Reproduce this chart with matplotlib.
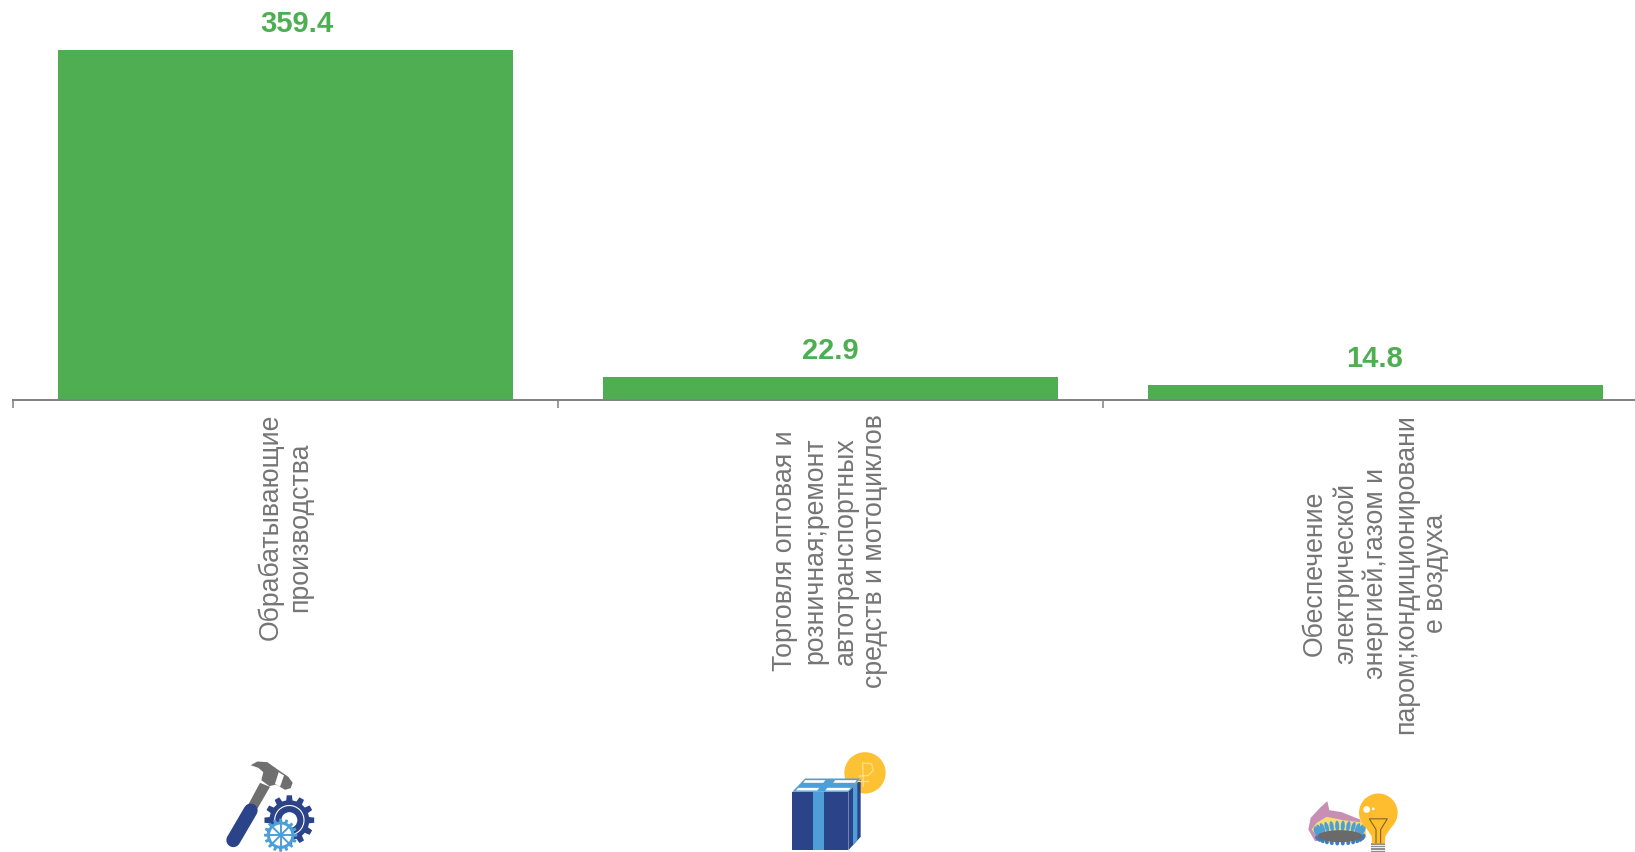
# Bar chart with rotated category labels and a small drawn icon under each bar
import numpy as np
import matplotlib
matplotlib.use('Agg')
import matplotlib.pyplot as plt
from matplotlib.patches import Circle, Ellipse, Polygon, Rectangle

plt.rcParams['font.family'] = ['Liberation Sans', 'DejaVu Sans']

categories = [
    'Обрабатывающие\nпроизводства',
    'Торговля оптовая и\nрозничная;ремонт\nавтотранспортных\nсредств и мотоциклов',
    'Обеспечение\nэлектрической\nэнергией,газом и\nпаром;кондиционировани\nе воздуха',
]
values = [359.4, 22.9, 14.8]

BAR_GREEN = '#4fae52'
LABEL_GREEN = '#4caf50'
AXIS_GREY = '#808080'
TEXT_GREY = '#757575'
DARK_BLUE = '#2b4389'
LIGHT_BLUE = '#4e9fd8'
HAMMER_GREY = '#6f6f6f'
YELLOW = '#fdbd2d'

W, H = 1635, 853
fig = plt.figure(figsize=(W / 100, H / 100), dpi=100)

# chart axes, runs off the right edge of the figure like the original
axis_y = 400.5
ax = fig.add_axes([12.5 / W, 1 - axis_y / H, 1636 / W, axis_y / H])
x = np.arange(len(values)) + 0.5
ax.bar(x, values, width=0.834, color=BAR_GREEN)
ax.set_xlim(0, 3)
ax.set_ylim(0, 359.4 * axis_y / 349.5)
for name in ['top', 'left', 'right']:
    ax.spines[name].set_visible(False)
ax.spines['bottom'].set_color(AXIS_GREY)
ax.spines['bottom'].set_linewidth(1.4)
ax.set_yticks([])

# band edges get the tick marks, band centres get the labels
ax.set_xticks([0, 1, 2, 3])
ax.set_xticklabels([])
ax.tick_params(axis='x', which='major', length=6, width=1.1, color=AXIS_GREY)
ax.set_xticks(x, minor=True)
ax.set_xticklabels(categories, minor=True, rotation=90, ha='center', va='top',
                   multialignment='center', fontsize=19.2, color=TEXT_GREY, linespacing=1.2)
ax.tick_params(axis='x', which='minor', length=0, pad=9.5)

# first label sits right of its bar centre in the original
label_shift = [12, 0, -1]
for xi, v, dx in zip(x, values, label_shift):
    ax.annotate(f'{v:.1f}', xy=(xi, v), xytext=(dx * 0.72, 27 * 0.72), textcoords='offset points',
                ha='center', va='center', fontsize=21, fontweight='bold', color=LABEL_GREEN,
                annotation_clip=False)

# overlay in pixel coordinates for the icons
icons = fig.add_axes([0, 0, 1, 1], zorder=5)
icons.set_xlim(0, W)
icons.set_ylim(H, 0)
icons.axis('off')
icons.patch.set_alpha(0)


def gear(cx, cy, r_out, r_in, teeth):
    # outline of a toothed wheel
    pts = []
    step = 2 * np.pi / teeth
    for k in range(teeth):
        a = k * step
        for da, r in [(-0.30, r_in), (-0.20, r_out), (0.20, r_out), (0.30, r_in)]:
            ang = a + da * step
            pts.append((cx + r * np.cos(ang), cy + r * np.sin(ang)))
    return pts


def hammer_icon(ox, oy, s=1 / 3):
    p = lambda pts: [(ox + a * s, oy + b * s) for a, b in pts]
    icons.add_patch(Polygon(p([(240, 160), (270, 172), (232, 238), (205, 225)]), color=HAMMER_GREY, lw=0))
    icons.plot(*zip(*p([(212, 243), (160, 332)])), color=DARK_BLUE, lw=14 * 0.72, solid_capstyle='round')
    icons.add_patch(Polygon(p([(212, 107), (232, 96), (262, 98), (290, 118), (325, 142), (338, 160),
                               (332, 176), (315, 181), (288, 165), (268, 170), (244, 152), (250, 128),
                               (235, 115)]), color=HAMMER_GREY, lw=0))
    icons.add_patch(Polygon(p([(296, 128), (312, 138), (300, 172), (285, 163)]), color='white', lw=0))
    cx, cy = ox + 328 * s, oy + 272 * s
    icons.add_patch(Polygon(gear(cx, cy, 75 * s, 60 * s, 12), color=DARK_BLUE, lw=0))
    icons.add_patch(Circle((cx, cy), 44 * s, fill=False, ec='white', lw=0.8))
    icons.add_patch(Circle((cx, cy), 24 * s, color='white', lw=0))
    cx2, cy2 = ox + 302 * s, oy + 317 * s
    icons.add_patch(Polygon(gear(cx2, cy2, 50 * s, 41 * s, 16), color=LIGHT_BLUE, lw=0))
    icons.add_patch(Circle((cx2, cy2), 32 * s, color='white', lw=0))
    for k in range(8):
        a = k * np.pi / 4
        icons.plot([cx2, cx2 + 36 * s * np.cos(a)], [cy2, cy2 + 36 * s * np.sin(a)], color=LIGHT_BLUE, lw=1.4)
    icons.add_patch(Circle((cx2, cy2), 6 * s, color=DARK_BLUE, lw=0))


def box_icon(ox, oy, s=1 / 3):
    p = lambda pts: [(ox + a * s, oy + b * s) for a, b in pts]
    icons.add_patch(Circle((ox + 375 * s, oy + 130 * s), 62 * s, color='#fcc233', lw=0))
    coin = '#fde08a'
    icons.plot(*zip(*p([(370, 170), (368, 100), (395, 103), (400, 122), (385, 138), (358, 140)])), color=coin, lw=0.9)
    icons.plot(*zip(*p([(355, 155), (385, 155)])), color=coin, lw=0.9)
    icons.add_patch(Polygon(p([(157, 187), (195, 147), (360, 147), (326, 187)]), color=LIGHT_BLUE, lw=0))
    icons.add_patch(Polygon(p([(195, 152), (256, 152), (250, 160), (190, 160)]), color='white', lw=0))
    icons.add_patch(Polygon(p([(285, 152), (350, 152), (345, 160), (280, 160)]), color='white', lw=0))
    icons.add_patch(Polygon(p([(175, 175), (238, 175), (232, 183), (168, 183)]), color='white', lw=0))
    icons.add_patch(Polygon(p([(262, 175), (332, 175), (326, 183), (256, 183)]), color='white', lw=0))
    icons.add_patch(Polygon(p([(157, 187), (325, 187), (325, 362), (157, 362)]), color=DARK_BLUE, lw=0))
    icons.add_patch(Polygon(p([(325, 187), (362, 150), (362, 322), (325, 362)]), color=DARK_BLUE, lw=0))
    icons.add_patch(Polygon(p([(339, 173), (352, 160), (352, 332), (339, 346)]), color=LIGHT_BLUE, lw=0))
    icons.add_patch(Rectangle((ox + 220 * s, oy + 187 * s), 33 * s, 175 * s, color=LIGHT_BLUE, lw=0))


def burner_icon(ox, oy, s=1 / 3):
    p = lambda pts: [(ox + a * s, oy + b * s) for a, b in pts]
    icons.add_patch(Polygon(p([(115, 180), (122, 145), (150, 115), (172, 95), (178, 122), (215, 128),
                               (270, 150), (285, 200), (200, 205), (135, 215)]), color='#c88fb4', lw=0))
    icons.add_patch(Polygon(p([(125, 180), (140, 160), (170, 142), (220, 152), (285, 160), (290, 205),
                               (150, 212)]), color='#f8dc72', lw=0))
    cx, cy = 210, 200
    for k in range(26):
        a = 2 * np.pi * k / 26
        ex, ey = cx + 70 * np.cos(a), cy + 20 * np.sin(a)
        up = np.sin(a) < 0
        h = 32 if up else 16
        icons.add_patch(Ellipse((ox + ex * s, oy + (ey - (h / 3 if up else 0)) * s), 12 * s, h * s,
                                angle=np.degrees(np.cos(a)) * 0.5, color=LIGHT_BLUE if up else '#3f7cc4', lw=0))
    icons.add_patch(Ellipse((ox + cx * s, oy + cy * s), 135 * s, 36 * s, color='#6a6a6a', lw=0))
    # bulb
    icons.add_patch(Rectangle((ox + 304 * s, oy + 220 * s), 42 * s, 28 * s, color='#8f8f8f', lw=0))
    for yy in [226, 233, 240]:
        icons.plot([ox + 304 * s, ox + 346 * s], [oy + yy * s, oy + yy * s], color='white', lw=0.6)
    icons.add_patch(Polygon(p([(285, 170), (305, 200), (306, 222), (345, 222), (346, 200), (366, 170)]), color=YELLOW, lw=0))
    icons.add_patch(Circle((ox + 325 * s, oy + 130 * s), 58 * s, color=YELLOW, lw=0))
    icons.add_patch(Circle((ox + 290 * s, oy + 120 * s), 10 * s, color='white', lw=0))
    icons.add_patch(Circle((ox + 310 * s, oy + 118 * s), 4 * s, color='white', lw=0))
    icons.plot(*zip(*p([(318, 220), (318, 180), (298, 148), (352, 148), (332, 180), (332, 220)])), color='#6a5a30', lw=0.7)


hammer_icon(180, 730.5)
box_icon(740, 730.5)
burner_icon(1270, 770.5)

fig.savefig('out.png', dpi=100)
